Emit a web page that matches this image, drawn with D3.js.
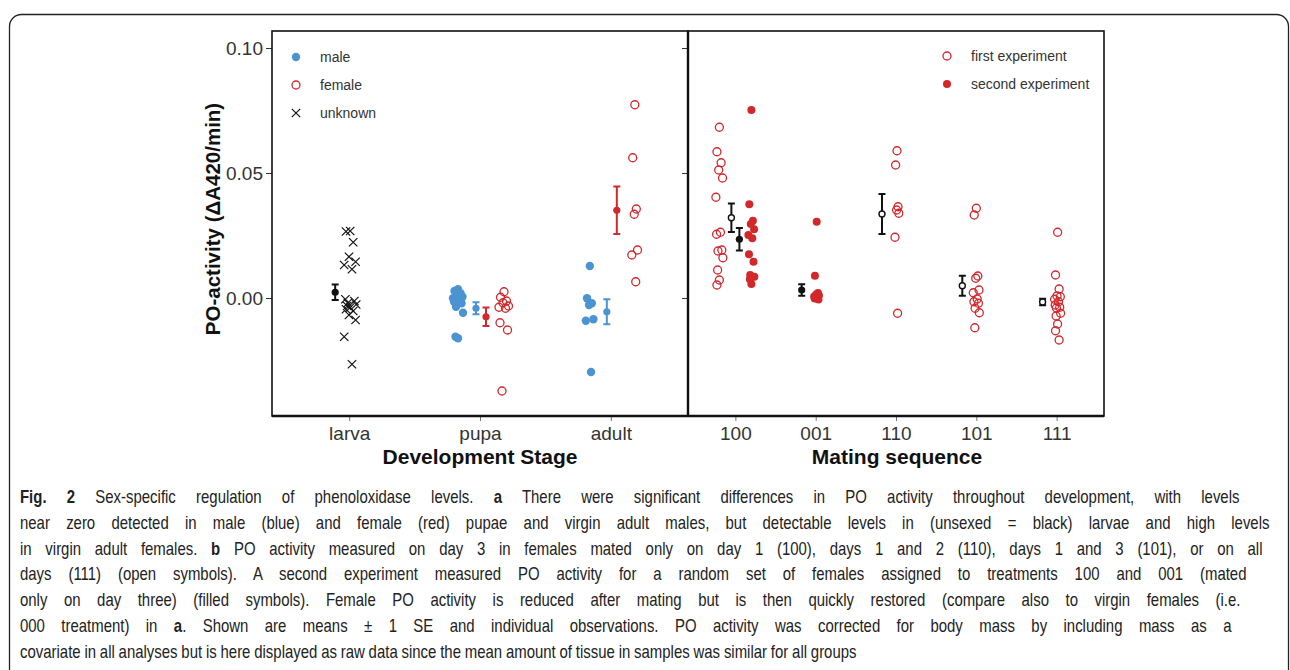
<!DOCTYPE html>
<html>
<head>
<meta charset="utf-8">
<script src="https://cdn.jsdelivr.net/npm/d3@7"></script>
<style>
body { margin: 0; background: #fff; }
svg text { font-family: "Liberation Sans", Arial, Helvetica, sans-serif; }
</style>
</head>
<body>
<svg id="fig" width="1290" height="670"></svg>
<script>
// ---- data ----
var stages = ["larva", "pupa", "adult"];
var sequences = ["100", "001", "110", "101", "111"];
var yTicks = [0, 0.05, 0.10];

// panel a : individual observations
var larvaUnknown = [0.0268, 0.0266, 0.0223, 0.0165, 0.0145, 0.0132, 0.0115, -0.0005, -0.0012, -0.0020,
                    -0.0026, -0.0032, -0.0038, -0.0045, -0.0052, -0.0068, -0.0088, -0.0155, -0.0265];
var pupaMale = [0.0035, 0.0028, 0.0019, 0.0012, 0.0005, -0.0001, -0.0008, -0.0015, -0.0021, -0.0035,
                -0.0059, -0.0155, -0.0161];
var pupaFemale = [0.0025, 0.0003, -0.0012, -0.0019, -0.0032, -0.0037, -0.0041, -0.0099, -0.0128, -0.0372];
var adultMale = [0.0128, -0.0001, -0.0021, -0.0028, -0.0085, -0.0091, -0.0296];
var adultFemale = [0.0773, 0.0561, 0.0356, 0.0335, 0.0192, 0.0172, 0.0065];

// panel a : means and SE
var stageMeans = [
    {stage: "larva", sex: "unknown", mean: 0.0023, se: 0.0031},
    {stage: "pupa", sex: "male", mean: -0.0041, se: 0.0024},
    {stage: "pupa", sex: "female", mean: -0.0075, se: 0.0037},
    {stage: "adult", sex: "male", mean: -0.0055, se: 0.0050},
    {stage: "adult", sex: "female", mean: 0.0351, se: 0.0095}
];

// panel b : individual observations
var first100 = [0.0683, 0.0585, 0.0541, 0.0512, 0.0480, 0.0403, 0.0263, 0.0255, 0.0192, 0.0188,
                0.0161, 0.0112, 0.0072, 0.0052];
var second100 = [0.0752, 0.0375, 0.0309, 0.0296, 0.0275, 0.0252, 0.0239, 0.0175, 0.0145, 0.0092,
                 0.0085, 0.0075, 0.0056];
var second001 = [0.0305, 0.0089, 0.0020, 0.0014, 0.0010, 0.0006, 0.0002, -0.0002, -0.0006];
var first110 = [0.0589, 0.0532, 0.0365, 0.0352, 0.0339, 0.0243, -0.0061];
var first101 = [0.0359, 0.0332, 0.0088, 0.0079, 0.0032, 0.0021, -0.0004, -0.0015, -0.0021, -0.0041,
                -0.0059, -0.0119];
var first111 = [0.0263, 0.0092, 0.0036, 0.0008, 0.0005, -0.0005, -0.0015, -0.0028, -0.0037, -0.0040,
                -0.0061, -0.0072, -0.0104, -0.0131, -0.0168];

// panel b : means and SE
var seqMeans = [
    {seq: "100", exp: "first", mean: 0.0321, se: 0.0057},
    {seq: "100", exp: "second", mean: 0.0235, se: 0.0045},
    {seq: "001", exp: "second", mean: 0.0032, se: 0.0023},
    {seq: "110", exp: "first", mean: 0.0336, se: 0.0080},
    {seq: "101", exp: "first", mean: 0.0049, se: 0.0040},
    {seq: "111", exp: "first", mean: -0.0016, se: 0.0013}
];

var captionLines = [
    [["Fig. 2", true], [" Sex-specific regulation of phenoloxidase levels. ", false], ["a", true],
     [" There were significant differences in PO activity throughout development, with levels", false]],
    [["near zero detected in male (blue) and female (red) pupae and virgin adult males, but detectable levels in (unsexed = black) larvae and high levels", false]],
    [["in virgin adult females. ", false], ["b", true],
     [" PO activity measured on day 3 in females mated only on day 1 (100), days 1 and 2 (110), days 1 and 3 (101), or on all", false]],
    [["days (111) (open symbols). A second experiment measured PO activity for a random set of females assigned to treatments 100 and 001 (mated", false]],
    [["only on day three) (filled symbols). Female PO activity is reduced after mating but is then quickly restored (compare also to virgin females (i.e.", false]],
    [["000 treatment) in ", false], ["a", true],
     [". Shown are means \u00b1 1 SE and individual observations. PO activity was corrected for body mass by including mass as a", false]],
    [["covariate in all analyses but is here displayed as raw data since the mean amount of tissue in samples was similar for all groups", false]]
];
// justified block: each line is brought to this width through its word spacing
var captionWidths = [1220, 1250, 1243, 1227, 1221, 1212, 837];

// ---- drawing ----
var blue = "#4b94d1", red = "#d2282c";

var svg = d3.select("#fig");

// card outline
svg.append("rect")
    .attr("x", 9.5).attr("y", 14.5)
    .attr("width", 1279).attr("height", 720)
    .attr("rx", 12)
    .attr("fill", "none")
    .attr("stroke", "#222")
    .attr("stroke-width", 1.3);

var plotTop = 31, plotBottom = 416;
var y = d3.scaleLinear().domain([-0.0472, 0.1068]).range([plotBottom, plotTop]);
var xa = d3.scalePoint().domain(stages).range([272, 688]).padding(0.59);
var xb = d3.scalePoint().domain(sequences).range([688, 1104]).padding(0.59);

// fixed spread pattern for overlapping points
var spread = [0, -0.7, 0.5, -0.2, 0.9, -1, 0.3, -0.8, 0.7, -0.4, 1, -0.5];
function jit(i, w) { return spread[i % spread.length] * w; }

// y axis (panel a with labels)
var yAxisA = svg.append("g")
    .attr("transform", "translate(272,0)")
    .call(d3.axisLeft(y).tickValues(yTicks).tickFormat(d3.format(".2f")).tickSize(6).tickPadding(3));
yAxisA.select(".domain").remove();
yAxisA.selectAll("line").attr("stroke", "#333");
yAxisA.selectAll("text").attr("font-size", 19).attr("fill", "#333")
    .style("font-family", "'Liberation Sans', Arial, sans-serif");

// y ticks on panel b edge, no labels
var yAxisB = svg.append("g")
    .attr("transform", "translate(688,0)")
    .call(d3.axisLeft(y).tickValues(yTicks).tickFormat("").tickSize(6));
yAxisB.select(".domain").remove();
yAxisB.selectAll("line").attr("stroke", "#333");

// x axes
function xAxis(scale) {
    var g = svg.append("g")
        .attr("transform", "translate(0," + plotBottom + ")")
        .call(d3.axisBottom(scale).tickSize(5).tickPadding(6));
    g.select(".domain").remove();
    g.selectAll("line").attr("stroke", "#777");
    g.selectAll("text").attr("font-size", 19).attr("fill", "#333")
        .style("font-family", "'Liberation Sans', Arial, sans-serif");
}
xAxis(xa);
xAxis(xb);

// panel frames
svg.append("rect").attr("x", 272).attr("y", plotTop).attr("width", 416).attr("height", plotBottom - plotTop)
    .attr("fill", "none").attr("stroke", "#111").attr("stroke-width", 1.6);
svg.append("rect").attr("x", 688).attr("y", plotTop).attr("width", 416).attr("height", plotBottom - plotTop)
    .attr("fill", "none").attr("stroke", "#111").attr("stroke-width", 1.6);
svg.append("line").attr("x1", 272).attr("x2", 1104).attr("y1", plotBottom).attr("y2", plotBottom)
    .attr("stroke", "#111").attr("stroke-width", 2.4);
svg.append("line").attr("x1", 688).attr("x2", 688).attr("y1", plotTop).attr("y2", plotBottom)
    .attr("stroke", "#111").attr("stroke-width", 2.4);

// axis titles
svg.append("text").attr("x", 480).attr("y", 464).attr("text-anchor", "middle")
    .attr("font-size", 21).attr("font-weight", "bold").attr("fill", "#111").text("Development Stage");
svg.append("text").attr("x", 897).attr("y", 464).attr("text-anchor", "middle")
    .attr("font-size", 21).attr("font-weight", "bold").attr("fill", "#111").text("Mating sequence");
svg.append("text").attr("transform", "translate(220,219) rotate(-90)").attr("text-anchor", "middle")
    .attr("font-size", 20.5).attr("font-weight", "bold").attr("fill", "#111").text("PO-activity (\u0394A420/min)");

// markers
function dot(g, cx, cy, color, filled, r) {
    g.append("circle").attr("cx", cx).attr("cy", cy).attr("r", r)
        .attr("fill", filled ? color : "none")
        .attr("stroke", color).attr("stroke-width", filled ? 0 : 1.3);
}
function cross(g, cx, cy, color) {
    var s = 4.2;
    g.append("path")
        .attr("d", "M" + (cx - s) + "," + (cy - s) + "L" + (cx + s) + "," + (cy + s) +
                   "M" + (cx - s) + "," + (cy + s) + "L" + (cx + s) + "," + (cy - s))
        .attr("stroke", color).attr("stroke-width", 1.2).attr("fill", "none");
}
function errbar(g, cx, m, se, color, filled) {
    g.append("line").attr("x1", cx).attr("x2", cx).attr("y1", y(m - se)).attr("y2", y(m + se))
        .attr("stroke", color).attr("stroke-width", 2);
    [m - se, m + se].forEach(function(v) {
        g.append("line").attr("x1", cx - 3.5).attr("x2", cx + 3.5).attr("y1", y(v)).attr("y2", y(v))
            .attr("stroke", color).attr("stroke-width", 2);
    });
    g.append("circle").attr("cx", cx).attr("cy", y(m)).attr("r", filled ? 3.6 : 3)
        .attr("fill", filled ? color : "#fff").attr("stroke", color).attr("stroke-width", filled ? 0 : 1.4);
}

var marks = svg.append("g");

// panel a points
var groupsA = [
    {stage: "larva", values: larvaUnknown, kind: "unknown", off: 1, w: 6},
    {stage: "pupa", values: pupaMale, kind: "male", off: -22, w: 5},
    {stage: "pupa", values: pupaFemale, kind: "female", off: 24, w: 5},
    {stage: "adult", values: adultMale, kind: "male", off: -21, w: 4},
    {stage: "adult", values: adultFemale, kind: "female", off: 24, w: 3}
];
groupsA.forEach(function(gr) {
    gr.values.forEach(function(v, i) {
        var cx = xa(gr.stage) + gr.off + jit(i, gr.w);
        if (gr.kind === "unknown") cross(marks, cx, y(v), "#111");
        else if (gr.kind === "male") dot(marks, cx, y(v), blue, true, 4.2);
        else dot(marks, cx, y(v), red, false, 4);
    });
});
var meanOffA = {unknown: -14, male: -4, female: 6};
var sexColor = {unknown: "#111", male: blue, female: red};
stageMeans.forEach(function(d) {
    errbar(marks, xa(d.stage) + meanOffA[d.sex], d.mean, d.se, sexColor[d.sex], true);
});

// panel b points
var groupsB = [
    {seq: "100", values: first100, exp: "first", off: -16, w: 3.5},
    {seq: "100", values: second100, exp: "second", off: 16, w: 3},
    {seq: "001", values: second001, exp: "second", off: 1, w: 2.5},
    {seq: "110", values: first110, exp: "first", off: 1, w: 2},
    {seq: "101", values: first101, exp: "first", off: 0, w: 3},
    {seq: "111", values: first111, exp: "first", off: 1, w: 3}
];
groupsB.forEach(function(gr) {
    gr.values.forEach(function(v, i) {
        var cx = xb(gr.seq) + gr.off + jit(i, gr.w);
        dot(marks, cx, y(v), red, gr.exp === "second", 4);
    });
});
seqMeans.forEach(function(d) {
    var off = d.seq === "100" ? (d.exp === "first" ? -4 : 4) : -14;
    errbar(marks, xb(d.seq) + off, d.mean, d.se, "#111", d.exp === "second");
});

// legends
var legA = [["male", "male"], ["female", "female"], ["unknown", "unknown"]];
legA.forEach(function(d, i) {
    var ly = 57 + i * 28;
    if (d[1] === "male") dot(svg, 296, ly, blue, true, 4.2);
    else if (d[1] === "female") dot(svg, 296, ly, red, false, 4);
    else cross(svg, 296, ly, "#111");
    svg.append("text").attr("x", 320).attr("y", ly + 5).attr("font-size", 14).attr("fill", "#333").text(d[0]);
});
var legB = [["first experiment", false], ["second experiment", true]];
legB.forEach(function(d, i) {
    var ly = 56 + i * 28;
    dot(svg, 947, ly, red, d[1], 4);
    svg.append("text").attr("x", 971).attr("y", ly + 5).attr("font-size", 14).attr("fill", "#333").text(d[0]);
});

// caption: slightly condensed face, each line fitted through word-spacing
var squeeze = 0.83;
captionLines.forEach(function(parts, i) {
    var t = svg.append("text")
        .attr("x", 0).attr("y", 0)
        .attr("font-size", 18).attr("fill", "#222")
        .style("font-family", "'Liberation Sans', Arial, sans-serif");
    parts.forEach(function(p) {
        t.append("tspan").attr("font-weight", p[1] ? "bold" : "normal").text(p[0]);
    });
    var natural = t.node().getComputedTextLength();
    var nSpaces = parts.map(function(p) { return p[0]; }).join("").split(" ").length - 1;
    var extra = captionWidths[i] / squeeze - natural;
    t.style("word-spacing", (extra / nSpaces) + "px");
    t.attr("transform", "translate(20," + (503 + i * 25.8) + ") scale(" + squeeze + ",1)");
});
</script>
</body>
</html>
